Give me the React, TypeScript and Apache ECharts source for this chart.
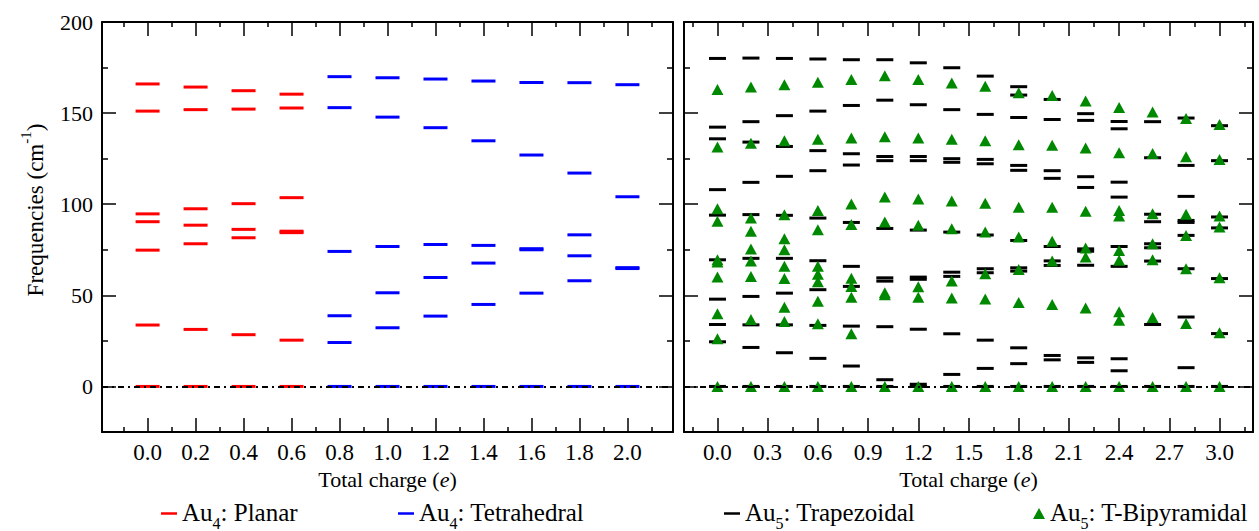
import React, { useEffect, useRef } from "react";
import * as echarts from "echarts";

// ---------- data ----------
const planarX = [0.0, 0.2, 0.4, 0.6];
const planarFreqs = [
  [166.0, 151.1, 94.7, 90.4, 74.8, 33.7, 0],
  [164.3, 151.9, 97.5, 88.5, 78.3, 31.3, 0],
  [162.3, 152.2, 100.3, 86.2, 81.6, 28.4, 0],
  [160.4, 152.8, 103.6, 85.2, 84.4, 25.4, 0],
];
const tetraX = [0.8, 1.0, 1.2, 1.4, 1.6, 1.8, 2.0];
const tetraFreqs = [
  [170.0, 153.0, 74.1, 38.8, 24.1, 0],
  [169.4, 147.8, 76.8, 51.4, 32.2, 0],
  [168.7, 142.0, 77.9, 59.8, 38.6, 0],
  [167.6, 134.8, 77.4, 67.7, 45.0, 0],
  [166.8, 127.0, 75.6, 75.0, 51.2, 0],
  [166.7, 117.1, 83.2, 71.7, 58.0, 0],
  [165.6, 104.1, 65.2, 64.7, 0],
];
const au5X = [0.0, 0.2, 0.4, 0.6, 0.8, 1.0, 1.2, 1.4, 1.6, 1.8, 2.0, 2.2, 2.4, 2.6, 2.8, 3.0];
const trapFreqs = [
  [180.0, 142.3, 135.9, 108.0, 94.0, 69.5, 47.9, 34.0, 24.5, 0],
  [180.2, 145.3, 134.1, 112.0, 94.3, 70.3, 49.4, 33.8, 21.4, 0],
  [180.0, 148.6, 131.7, 115.3, 93.9, 70.3, 51.2, 33.8, 18.5, 0],
  [179.7, 151.1, 129.4, 118.4, 92.4, 69.0, 53.1, 33.5, 15.4, 0],
  [179.3, 154.2, 127.7, 121.5, 90.0, 65.9, 54.9, 33.1, 11.2, 0],
  [179.3, 157.1, 126.2, 123.9, 86.7, 59.6, 57.8, 32.8, 3.7, 0],
  [177.6, 154.6, 126.2, 123.9, 85.8, 60.0, 58.8, 31.4, 1.2, 0],
  [174.9, 151.9, 125.0, 123.0, 84.7, 62.7, 60.4, 28.9, 6.6, 0],
  [170.3, 149.3, 124.6, 122.2, 83.1, 64.6, 62.4, 25.4, 9.9, 0],
  [164.5, 159.9, 147.6, 121.3, 118.6, 80.1, 65.1, 63.3, 21.2, 12.5, 0],
  [157.5, 146.5, 118.4, 114.2, 76.8, 68.9, 66.4, 17.0, 14.6, 0],
  [149.7, 146.0, 115.1, 109.2, 75.5, 74.2, 66.5, 15.7, 13.2, 0],
  [145.4, 141.4, 112.1, 103.9, 76.8, 65.9, 15.2, 8.6, 0],
  [145.3, 125.5, 94.5, 90.4, 78.3, 76.1, 68.8, 34.0, 0],
  [147.3, 121.3, 104.3, 91.1, 90.0, 82.9, 64.6, 38.1, 10.3, 0],
  [143.1, 123.9, 93.0, 87.0, 59.2, 29.0, 0],
];
const tbpFreqs = [
  [163.0, 131.4, 97.5, 90.6, 69.5, 68.3, 60.0, 39.9, 26.2, 0],
  [164.3, 133.5, 92.4, 85.1, 75.4, 68.8, 60.4, 36.8, 0],
  [165.6, 134.8, 94.2, 81.0, 75.0, 66.0, 59.3, 43.4, 35.7, 0],
  [167.0, 135.6, 96.6, 86.0, 65.9, 61.6, 57.5, 46.7, 34.4, 0],
  [168.5, 136.3, 100.1, 88.9, 59.4, 54.9, 49.0, 28.9, 0],
  [170.5, 137.0, 103.9, 90.2, 51.4, 50.3, 0],
  [168.5, 136.3, 102.8, 88.5, 54.7, 49.0, 0],
  [166.5, 135.7, 101.7, 86.5, 57.8, 48.5, 0],
  [164.7, 134.8, 100.6, 84.7, 61.8, 48.0, 0],
  [161.2, 132.6, 98.4, 82.0, 64.2, 46.1, 0],
  [159.7, 132.3, 98.4, 79.7, 68.9, 45.0, 0],
  [156.6, 130.8, 96.2, 76.0, 71.0, 43.0, 0],
  [153.1, 128.3, 96.6, 93.6, 74.6, 69.2, 41.0, 36.3, 0],
  [150.6, 127.9, 94.8, 78.3, 69.5, 37.8, 0],
  [147.1, 126.1, 94.5, 82.9, 64.6, 34.5, 0],
  [143.8, 124.6, 93.5, 87.5, 59.6, 29.4, 0],
];

// ---------- ticks ----------
const leftXMajor = [0.0, 0.2, 0.4, 0.6, 0.8, 1.0, 1.2, 1.4, 1.6, 1.8, 2.0];
const leftXMinor = [-0.1, 0.1, 0.3, 0.5, 0.7, 0.9, 1.1, 1.3, 1.5, 1.7, 1.9, 2.1];
const rightXMajor = [0.0, 0.3, 0.6, 0.9, 1.2, 1.5, 1.8, 2.1, 2.4, 2.7, 3.0];
const rightXMinor = [-0.15, 0.15, 0.45, 0.75, 1.05, 1.35, 1.65, 1.95, 2.25, 2.55, 2.85, 3.15];
const yMajor = [0, 50, 100, 150, 200];
const yMinor = [25, 75, 125, 175];

const FONT = '"Liberation Serif", "Times New Roman", serif';
const GREEN = "#008800";

const pairs = (xs: number[], ys: number[][]) =>
  xs.flatMap((x, i) => ys[i].map((f) => [x, f]));

function xAxes(grid: number, min: number, max: number, major: number[], minor: number[]) {
  const base = { type: "value", gridIndex: grid, min, max, splitLine: { show: false } };
  return [
    {
      ...base,
      position: "bottom",
      axisLine: { show: true, onZero: false, lineStyle: { color: "#000", width: 2 } },
      axisTick: { show: true, inside: true, length: 14, customValues: major, lineStyle: { color: "#000", width: 1.5 } },
      axisLabel: {
        show: true,
        customValues: major,
        margin: 9,
        formatter: (v: number) => v.toFixed(1),
        fontFamily: FONT,
        fontSize: 23,
        color: "#000",
      },
      name: "{xb|Total charge (}{xi|e}{xb|)}",
      nameLocation: "middle",
      nameGap: 34,
      nameTextStyle: {
        rich: {
          xb: { fontFamily: FONT, fontSize: 22, color: "#000" },
          xi: { fontFamily: FONT, fontSize: 22, fontStyle: "italic", color: "#000" },
        },
      },
    },
    {
      ...base,
      position: "bottom",
      axisLine: { show: false, onZero: false },
      axisTick: { show: true, inside: true, length: 5, customValues: minor, lineStyle: { color: "#000", width: 1.5 } },
      axisLabel: { show: false },
    },
    {
      ...base,
      position: "top",
      axisLine: { show: true, onZero: false, lineStyle: { color: "#000", width: 2 } },
      axisTick: { show: true, inside: true, length: 14, customValues: major, lineStyle: { color: "#000", width: 1.5 } },
      axisLabel: { show: false },
    },
    {
      ...base,
      position: "top",
      axisLine: { show: false, onZero: false },
      axisTick: { show: true, inside: true, length: 5, customValues: minor, lineStyle: { color: "#000", width: 1.5 } },
      axisLabel: { show: false },
    },
  ];
}

function yAxes(grid: number, labels: boolean) {
  const base = { type: "value", gridIndex: grid, min: -25, max: 200, splitLine: { show: false } };
  const main: any = {
    ...base,
    position: "left",
    axisLine: { show: true, onZero: false, lineStyle: { color: "#000", width: 2 } },
    axisTick: { show: true, inside: true, length: 14, customValues: yMajor, lineStyle: { color: "#000", width: 1.5 } },
    axisLabel: labels
      ? { show: true, customValues: yMajor, margin: 9, fontFamily: FONT, fontSize: 22, color: "#000" }
      : { show: false },
  };
  if (labels) {
    main.name = "{yb|Frequencies (cm}{ysup|-1}{yb|)}";
    main.nameLocation = "middle";
    main.nameGap = 55;
    main.nameRotate = 90;
    main.nameTextStyle = {
      padding: [0, 0, 0, 34],
      rich: {
        yb: { fontFamily: FONT, fontSize: 23, color: "#000", verticalAlign: "bottom", lineHeight: 26 },
        ysup: { fontFamily: FONT, fontSize: 15, color: "#000", verticalAlign: "bottom", lineHeight: 17, padding: [0, 0, 14, 0] },
      },
    };
  }
  return [
    main,
    {
      ...base,
      position: "left",
      axisLine: { show: false, onZero: false },
      axisTick: { show: true, inside: true, length: 6, customValues: yMinor, lineStyle: { color: "#000", width: 1.5 } },
      axisLabel: { show: false },
    },
    {
      ...base,
      position: "right",
      axisLine: { show: true, onZero: false, lineStyle: { color: "#000", width: 2 } },
      axisTick: { show: true, inside: true, length: 14, customValues: yMajor, lineStyle: { color: "#000", width: 1.5 } },
      axisLabel: { show: false },
    },
    {
      ...base,
      position: "right",
      axisLine: { show: false, onZero: false },
      axisTick: { show: true, inside: true, length: 6, customValues: yMinor, lineStyle: { color: "#000", width: 1.5 } },
      axisLabel: { show: false },
    },
  ];
}

const legendRich = {
  lb: { fontFamily: FONT, fontSize: 25, color: "#000", verticalAlign: "top", lineHeight: 27 },
  lsub: { fontFamily: FONT, fontSize: 16, color: "#000", verticalAlign: "top", lineHeight: 17, padding: [15, 0, 0, 0] },
};
const legendFormatter = (name: string) => {
  const m = name.match(/^Au(\d)(.*)$/);
  if (!m) return name;
  return `{lb|Au}{lsub|${m[1]}}{lb|${m[2]}}`;
};
function legendItem(name: string, left: number, icon: string, w: number, h: number) {
  return {
    data: [name],
    left,
    top: 500,
    orient: "horizontal",
    icon,
    itemWidth: w,
    itemHeight: h,
    itemGap: 0,
    selectedMode: false,
    padding: 0,
    formatter: legendFormatter,
    itemStyle: { opacity: 1 },
    textStyle: { rich: legendRich, padding: [0, 0, 0, 0] },
  };
}

const zeroLine = (xi: number, yi: number) => ({
  type: "line",
  xAxisIndex: xi,
  yAxisIndex: yi,
  data: [],
  silent: true,
  z: 10,
  markLine: {
    silent: true,
    symbol: "none",
    label: { show: false },
    lineStyle: { color: "#000", width: 2, type: [6, 4, 2, 4] },
    data: [{ yAxis: 0 }],
  },
});

export default function App() {
  const ref = useRef<HTMLDivElement>(null);
  useEffect(() => {
    document.body.style.margin = "0";
    const chart = echarts.init(ref.current!, null, { renderer: "svg" });
    const option: any = {
      animation: false,
      backgroundColor: "#fff",
      grid: [
        { left: 102, top: 22, width: 571, height: 410 },
        { left: 684, top: 22, width: 569, height: 410 },
      ],
      xAxis: [
        ...xAxes(0, -0.19, 2.19, leftXMajor, leftXMinor),
        ...xAxes(1, -0.2, 3.2, rightXMajor, rightXMinor),
      ],
      yAxis: [...yAxes(0, true), ...yAxes(1, false)],
      legend: [
        legendItem("Au4: Planar", 161, "rect", 16, 2.5),
        legendItem("Au4: Tetrahedral", 398, "rect", 16, 2.5),
        legendItem("Au5: Trapezoidal", 724, "rect", 16, 2.5),
        legendItem("Au5: T-Bipyramidal", 1033, "triangle", 12, 11),
      ],
      series: [
        {
          name: "Au4: Planar",
          type: "scatter",
          xAxisIndex: 0,
          yAxisIndex: 0,
          symbol: "rect",
          symbolSize: [24, 3],
          itemStyle: { color: "#ff0000", opacity: 1 },
          data: pairs(planarX, planarFreqs),
          z: 3,
        },
        {
          name: "Au4: Tetrahedral",
          type: "scatter",
          xAxisIndex: 0,
          yAxisIndex: 0,
          symbol: "rect",
          symbolSize: [24, 3],
          itemStyle: { color: "#0000ff", opacity: 1 },
          data: pairs(tetraX, tetraFreqs),
          z: 3,
        },
        zeroLine(0, 0),
        {
          name: "Au5: Trapezoidal",
          type: "scatter",
          xAxisIndex: 4,
          yAxisIndex: 4,
          symbol: "rect",
          symbolSize: [17, 3],
          itemStyle: { color: "#000", opacity: 1 },
          data: pairs(au5X, trapFreqs),
          z: 3,
        },
        {
          name: "Au5: T-Bipyramidal",
          type: "scatter",
          xAxisIndex: 4,
          yAxisIndex: 4,
          symbol: "triangle",
          symbolSize: [12, 11],
          itemStyle: { color: GREEN, opacity: 1 },
          data: pairs(au5X, tbpFreqs),
          z: 4,
        },
        zeroLine(4, 4),
      ],
    };
    chart.setOption(option);
    return () => chart.dispose();
  }, []);
  return <div ref={ref} style={{ width: 1259, height: 531 }} />;
}
